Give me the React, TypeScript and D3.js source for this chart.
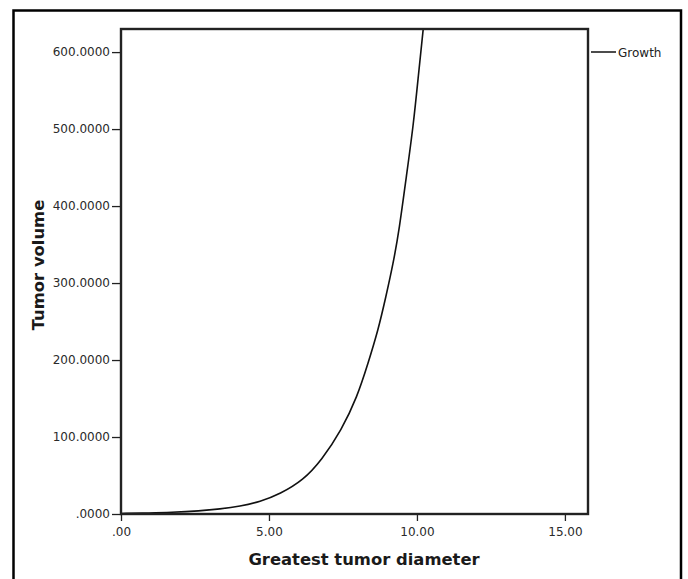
import * as d3 from "d3";
import { useRef, useEffect } from "react";

// (greatest tumor diameter -> tumor volume, fitted growth curve)
const diameters = [0, 1, 1.66, 2.67, 3.34, 4.02, 4.7, 5.37, 6.16, 6.78, 7.45, 7.98, 8.35, 8.69, 8.95, 9.2, 9.4, 9.64, 9.88, 10.05, 10.21, 10.3];
const volumes = [0.7, 1.4, 2, 4, 6.5, 10, 16, 26, 44, 70, 109, 152, 196, 239, 282, 326, 369, 438, 505, 570, 630, 660];
const xTicks = [0, 5, 10, 15];
const yTicks = [0, 100, 200, 300, 400, 500, 600];
const seriesName = "Growth";
const xTitle = "Greatest tumor diameter";
const yTitle = "Tumor volume";

const fmtX = (v: number) => (v === 0 ? ".00" : d3.format(".2f")(v));
const fmtY = (v: number) => (v === 0 ? ".0000" : d3.format(".4f")(v));

export default function App() {
  const svgRef = useRef<SVGSVGElement>(null);

  const width = 688;
  const height = 579;
  const plotLeft = 121;
  const plotRight = 588;
  const plotTop = 29;
  const plotBottom = 514;

  useEffect(() => {
    const svg = d3.select(svgRef.current);
    svg.selectAll("*").remove();

    const x = d3.scaleLinear().domain([0, 15.78]).range([plotLeft, plotRight]);
    const y = d3.scaleLinear().domain([0, 630]).range([plotBottom, plotTop]);

    svg.append("rect").attr("width", width).attr("height", height).attr("fill", "#fff");

    // outer frame (bottom edge runs off the picture)
    svg
      .append("rect")
      .attr("x", 13.5)
      .attr("y", 10.5)
      .attr("width", 681 - 13.5)
      .attr("height", 600)
      .attr("fill", "none")
      .attr("stroke", "#000")
      .attr("stroke-width", 2.5);

    svg
      .append("defs")
      .append("clipPath")
      .attr("id", "plot-clip")
      .append("rect")
      .attr("x", plotLeft)
      .attr("y", plotTop)
      .attr("width", plotRight - plotLeft)
      .attr("height", plotBottom - plotTop);

    const pts = diameters.map((d, i) => [d, volumes[i]] as [number, number]);
    const line = d3
      .line<[number, number]>()
      .x((d) => x(d[0]))
      .y((d) => y(d[1]))
      .curve(d3.curveBasis);

    svg
      .append("path")
      .attr("clip-path", "url(#plot-clip)")
      .attr("d", line(pts))
      .attr("fill", "none")
      .attr("stroke", "#111")
      .attr("stroke-width", 1.6);

    // y axis
    const gy = svg.append("g").attr("transform", `translate(${plotLeft},0)`);
    gy.call(d3.axisLeft(y).tickValues(yTicks).tickFormat((d) => fmtY(+d)).tickSize(9).tickPadding(2));
    gy.select(".domain").remove();
    gy.selectAll(".tick line").attr("stroke", "#222").attr("stroke-width", 1.3);
    gy.selectAll(".tick text")
      .attr("fill", "#2a2a2a")
      .attr("font-family", "DejaVu Sans")
      .attr("font-size", 12);

    // x axis
    const gx = svg.append("g").attr("transform", `translate(0,${plotBottom})`);
    gx.call(d3.axisBottom(x).tickValues(xTicks).tickFormat((d) => fmtX(+d)).tickSize(7).tickPadding(6));
    gx.select(".domain").remove();
    gx.selectAll(".tick line").attr("stroke", "#222").attr("stroke-width", 1.3);
    gx.selectAll(".tick text")
      .attr("fill", "#2a2a2a")
      .attr("font-family", "DejaVu Sans")
      .attr("font-size", 12);

    // plot box
    svg
      .append("rect")
      .attr("x", plotLeft)
      .attr("y", plotTop)
      .attr("width", plotRight - plotLeft)
      .attr("height", plotBottom - plotTop)
      .attr("fill", "none")
      .attr("stroke", "#222")
      .attr("stroke-width", 2.4);

    // titles
    svg
      .append("text")
      .attr("x", 364)
      .attr("y", 565)
      .attr("text-anchor", "middle")
      .attr("font-family", "DejaVu Sans")
      .attr("font-weight", "bold")
      .attr("font-size", 16.4)
      .attr("fill", "#1a1a1a")
      .text(xTitle);

    svg
      .append("text")
      .attr("transform", `translate(44,265) rotate(-90)`)
      .attr("text-anchor", "middle")
      .attr("font-family", "DejaVu Sans")
      .attr("font-weight", "bold")
      .attr("font-size", 16.4)
      .attr("fill", "#1a1a1a")
      .text(yTitle);

    // legend
    svg
      .append("line")
      .attr("x1", 591)
      .attr("x2", 616)
      .attr("y1", 52)
      .attr("y2", 52)
      .attr("stroke", "#111")
      .attr("stroke-width", 1.5);
    svg
      .append("text")
      .attr("x", 618)
      .attr("y", 56.5)
      .attr("font-family", "DejaVu Sans")
      .attr("font-size", 12)
      .attr("fill", "#222")
      .text(seriesName);
  }, []);

  return (
    <svg
      ref={svgRef}
      width={width}
      height={height}
      style={{ position: "absolute", left: 0, top: 0, display: "block" }}
    />
  );
}
